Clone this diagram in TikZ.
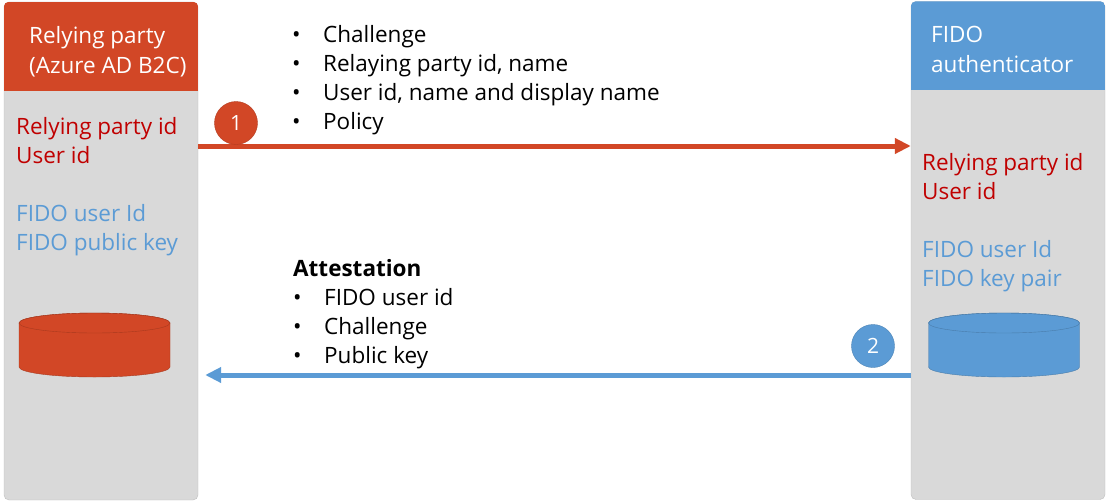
\documentclass[tikz,border=0pt]{standalone}
\usepackage{fontspec}
\setmainfont{Open Sans}
\usetikzlibrary{arrows.meta}

\definecolor{rpred}{HTML}{D24726}
\definecolor{fidoblue}{HTML}{5B9BD5}
\definecolor{colgray}{HTML}{D9D9D9}
\definecolor{colline}{HTML}{BFBFBF}
\definecolor{idred}{HTML}{C00000}

\newcommand\bul{\makebox[31pt][l]{\textbullet}}

\begin{document}
\begin{tikzpicture}[x=1pt,y=-1pt,
    column/.style={draw=colline,fill=colgray,rounded corners=5pt,minimum width=194pt,minimum height=498pt,inner sep=0pt},
    txt/.style={font=\fontsize{22.5}{29}\selectfont,align=left,anchor=north west,inner sep=0pt},
    stepcircle/.style={circle,fill=#1,draw=#1!85!black,minimum size=43pt,inner sep=0pt,text=white,font=\fontsize{21}{24}\selectfont},
    msg/.style={line width=5pt,draw=#1,-{Triangle[length=16pt,width=15pt]}}]
  \useasboundingbox (0,0) rectangle (1107,503);

  % the two parties
  \node[column] (rp) at (101,251)   {};
  \node[column] (fa) at (1008,250.5) {};
  \foreach \col/\hc in {rp/rpred, fa/fidoblue} {
    \begin{scope}
      \clip[rounded corners=5pt] (\col.north west) rectangle (\col.south east);
      \fill[\hc] (\col.north west) rectangle ([yshift=-89pt]\col.north east);
    \end{scope}
  }
  \node[txt,text=white,font=\fontsize{22.5}{30}\selectfont] (rph) at (29,26)  {Relying party\\(Azure AD B2C)};
  \node[txt,text=white,font=\fontsize{22.5}{30}\selectfont] (fah) at (931,26) {FIDO\\authenticator};

  % what each side keeps
  \node[txt,text=idred]    (rpids)  at (16,117)  {Relying party id\\User id};
  \node[txt,text=fidoblue] (rpfido) at (16,204)  {FIDO user Id\\FIDO public key};
  \node[txt,text=idred]    (faids)  at (922,153) {Relying party id\\User id};
  \node[txt,text=fidoblue] (fafido) at (922,240) {FIDO user Id\\FIDO key pair};

  % key stores
  \foreach \cx/\cc in {94.5/rpred, 1004/fidoblue} {
    \filldraw[fill=\cc,draw=\cc!80!black] (\cx-75.5,323) -- (\cx-75.5,367)
      arc[start angle=180,end angle=0,x radius=75.5,y radius=10] -- (\cx+75.5,323)
      arc[start angle=0,end angle=-180,x radius=75.5,y radius=10] -- cycle;
    \draw[draw=\cc!80!black] (\cx,323) ellipse [x radius=75.5,y radius=10];
  }

  % messages
  \coordinate (y1) at (0,146);
  \coordinate (y2) at (0,375);
  \draw[msg=rpred]    (rp.east |- y1) -- (fa.west |- y1);
  \draw[msg=fidoblue] (fa.west |- y2) -- ([xshift=7pt]rp.east |- y2);

  \node[stepcircle=rpred]    (s1) at (236,123) {1};
  \node[stepcircle=fidoblue] (s2) at (873,346) {2};

  \node[txt] (req) at (292,25)  {\bul Challenge\\\bul Relaying party id, name\\\bul User id, name and display name\\\bul Policy};
  \node[txt] (att) at (293,259) {\textbf{Attestation}\\\bul FIDO user id\\\bul Challenge\\\bul Public key};
\end{tikzpicture}
\end{document}
